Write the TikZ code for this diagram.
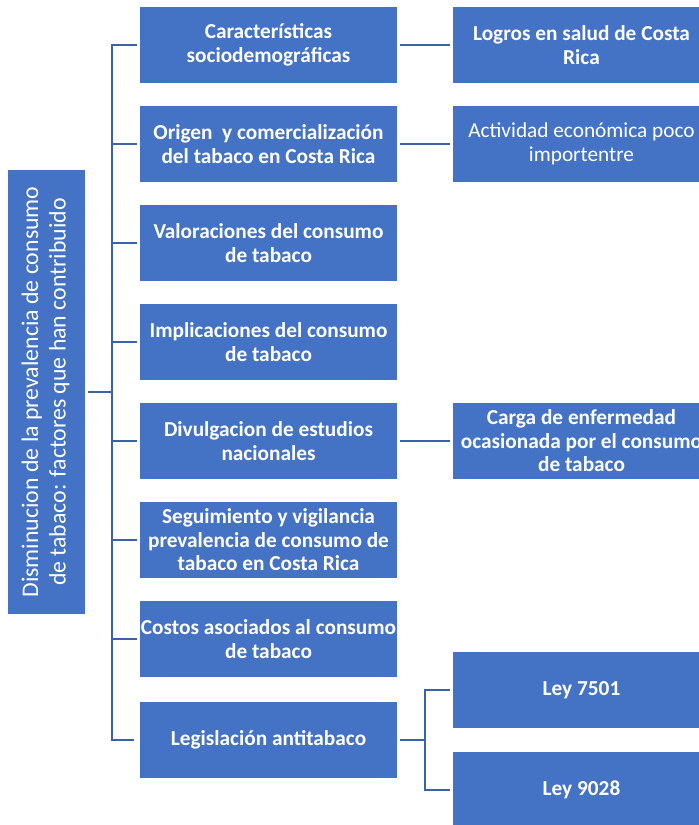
\documentclass[tikz,border=0pt]{standalone}
\usepackage{fontspec}
\setmainfont{Carlito}
\definecolor{boxblue}{HTML}{4472C4}
\definecolor{lineblue}{HTML}{3A62A9}
\begin{document}
\begin{tikzpicture}[x=1pt,y=-1pt,
  box/.style={fill=boxblue, minimum width=257pt, minimum height=76pt, inner sep=0pt,
    text=white, align=center, font=\fontsize{21.3}{23.5}\selectfont\bfseries},
  plainbox/.style={box, font=\fontsize{21.3}{23.5}\selectfont},
  conn/.style={draw=lineblue, line width=2pt},
  gap/.style={shorten <=3pt, shorten >=3pt}]
\useasboundingbox (0,0) rectangle (699,825);
\clip (0,0) rectangle (699,825);
% root
\node[fill=boxblue, minimum width=77pt, minimum height=444pt, inner sep=0pt, text=white]
  (root) at (46.5,392) {\rotatebox{90}{\fontsize{23.8}{27.5}\selectfont\begin{tabular}{@{}c@{}}Disminucion de la prevalencia de consumo\\de tabaco: factores que han contribuido\end{tabular}}};
% middle boxes
\node[box] (m1) at (268.5,45)  {Características\\sociodemográficas};
\node[box] (m2) at (268.5,144) {Origen\ \ y comercialización\\del tabaco en Costa Rica};
\node[box] (m3) at (268.5,243) {Valoraciones del consumo\\de tabaco};
\node[box] (m4) at (268.5,342) {Implicaciones del consumo\\de tabaco};
\node[box] (m5) at (268.5,441) {Divulgacion de estudios\\nacionales};
\node[box] (m6) at (268.5,540) {Seguimiento y vigilancia\\prevalencia de consumo de\\tabaco en Costa Rica};
\node[box] (m7) at (268.5,639) {Costos asociados al consumo\\de tabaco};
\node[box] (m8) at (268.5,740) {Legislación antitabaco};
% right boxes
\node[box] (r1) at (581.5,45)  {Logros en salud de Costa\\Rica};
\node[plainbox] (r2) at (581.5,144) {Actividad económica poco\\importentre};
\node[box] (r5) at (581.5,441) {Carga de enfermedad\\ocasionada por el consumo\\de tabaco};
\node[box] (l1) at (581.5,690) {Ley 7501};
\node[box] (l2) at (581.5,790) {Ley 9028};
% trunk
\coordinate (tx) at (112,392);
\coordinate (lj) at (425,740);
\draw[conn, shorten >=3pt] (m1.west) ++(-3pt,0) -| (tx) |- ([xshift=-3pt]m8.west);
\foreach \m in {m2,m3,m4,m5,m6,m7}{
  \draw[conn, shorten >=3pt] (\m.west -| tx) -- (\m.west);
}
\draw[conn, shorten <=3pt] (root.east) -- (tx);
% right connectors
\draw[conn, gap] (m1) -- (r1);
\draw[conn, gap] (m2) -- (r2);
\draw[conn, gap] (m5) -- (r5);
\draw[conn, shorten <=3pt] (m8.east) -- (lj);
\draw[conn, shorten <=3pt, shorten >=3pt] (l1.west) -| (lj) |- (l2.west);
\end{tikzpicture}
\end{document}
